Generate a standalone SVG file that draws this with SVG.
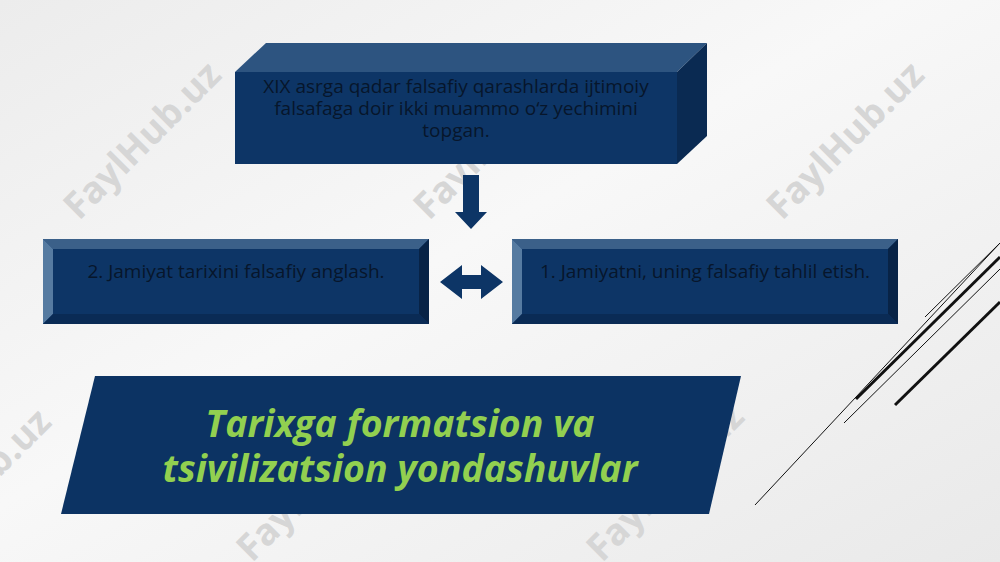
<svg xmlns="http://www.w3.org/2000/svg" width="1000" height="562" viewBox="0 0 1000 562">
<defs>
<linearGradient id="bg" x1="0" y1="0" x2="1" y2="1">
<stop offset="0" stop-color="#ececec"/>
<stop offset="0.45" stop-color="#f8f8f8"/>
<stop offset="1" stop-color="#e9e9e9"/>
</linearGradient>
<style>
.wm{font-family:"Open Sans","Noto Sans",sans-serif;font-weight:bold;font-size:37px;fill:#d6d6d6;text-anchor:middle}
.face{fill:#0d3566}
.txt{font-family:"Open Sans","Noto Sans","DejaVu Sans",sans-serif;font-size:19px;fill:#07162b;text-anchor:middle}
.title{font-family:"Open Sans","Noto Sans","DejaVu Sans",sans-serif;font-size:37.5px;font-weight:bold;font-style:italic;fill:#92d050;text-anchor:middle}
.arrow{fill:#0d3566}
.deco{stroke:#111;fill:none}
</style>
</defs>
<rect width="1000" height="562" fill="url(#bg)"/>
<g id="watermarks">
<text class="wm" transform="translate(142,140) rotate(-45)" dy="13">FaylHub.uz</text>
<text class="wm" transform="translate(492,140) rotate(-45)" dy="13">FaylHub.uz</text>
<text class="wm" transform="translate(845,140) rotate(-45)" dy="13">FaylHub.uz</text>
<text class="wm" transform="translate(-28,487) rotate(-45)" dy="13">FaylHub.uz</text>
<text class="wm" transform="translate(315,482) rotate(-45)" dy="13">FaylHub.uz</text>
<text class="wm" transform="translate(665,482) rotate(-45)" dy="13">FaylHub.uz</text>
</g>
<g id="decor">
<line class="deco" x1="755" y1="505" x2="1000" y2="243" stroke-width="1"/>
<line class="deco" x1="925" y1="317" x2="1000" y2="243" stroke-width="1"/>
<line class="deco" x1="856" y1="399" x2="1000" y2="257" stroke-width="3"/>
<line class="deco" x1="844" y1="423" x2="1000" y2="269" stroke-width="1"/>
<line class="deco" x1="895" y1="405" x2="1000" y2="302" stroke-width="3"/>
</g>
<g id="node-top">
<polygon points="235,72 266,43 707,43 677,72" fill="#2d5480"/>
<polygon points="677,72 707,43 707,136 677,164" fill="#0a2a52"/>
<rect x="235" y="72" width="442" height="92" class="face"/>
<text class="txt" x="456" y="93">XIX asrga qadar falsafiy qarashlarda ijtimoiy</text>
<text class="txt" x="456" y="115">falsafaga doir ikki muammo o‘z yechimini</text>
<text class="txt" x="456" y="137">topgan.</text>
</g>
<g id="node-left">
<rect x="43" y="239" width="386" height="85" class="face"/>
<polygon points="43,239 429,239 419,249 53,249" fill="#3b6089"/>
<polygon points="43,239 53,249 53,314 43,324" fill="#567ba1"/>
<polygon points="429,239 429,324 419,314 419,249" fill="#082346"/>
<polygon points="43,324 53,314 419,314 429,324" fill="#0a2b55"/>
<text class="txt" x="236" y="278">2. Jamiyat tarixini falsafiy anglash.</text>
</g>
<g id="node-right">
<rect x="512" y="239" width="386" height="85" class="face"/>
<polygon points="512,239 898,239 888,249 522,249" fill="#3b6089"/>
<polygon points="512,239 522,249 522,314 512,324" fill="#567ba1"/>
<polygon points="898,239 898,324 888,314 888,249" fill="#082346"/>
<polygon points="512,324 522,314 888,314 898,324" fill="#0a2b55"/>
<text class="txt" x="705" y="278">1. Jamiyatni, uning falsafiy tahlil etish.</text>
</g>
<g id="connectors">
<polygon class="arrow" points="463,175 479,175 479,212 487,212 471,229 455,212 463,212"/>
<polygon class="arrow" points="440,282 462,265 462,275 481,275 481,265 503,282 481,299 481,289 462,289 462,299"/>
</g>
<g id="node-title">
<polygon points="95,376 741,376 709,514 61,514" fill="#0c3363"/>
<text class="title" x="400" y="437">Tarixga formatsion va</text>
<text class="title" x="400" y="482">tsivilizatsion yondashuvlar</text>
</g>
</svg>
